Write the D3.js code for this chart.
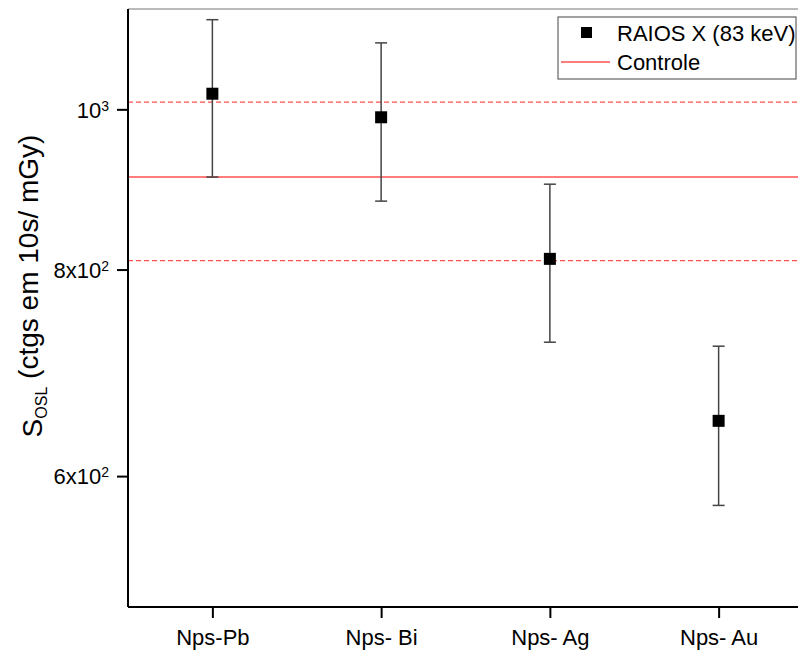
<!DOCTYPE html>
<html>
<head>
<meta charset="utf-8">
<style>
  body { margin: 0; background: #fff; }
  text { font-family: 'Liberation Sans', Arial, sans-serif; fill: #000; }
  .domain { stroke: #000; stroke-width: 2; }
  .tick line { stroke: #000; stroke-width: 2; }
</style>
</head>
<body>
<script src="https://d3js.org/d3.v7.min.js"></script>
<script>

// data
var categories = ['Nps-Pb', 'Nps- Bi', 'Nps- Ag', 'Nps- Au'];
var values     = [1022, 989, 812, 648];
var errPlus    = [111, 108, 89, 71];
var errMinus   = [112, 109, 89, 72];
var controle   = 910;
var controleBand = [810, 1010];
var yTicks     = [600, 800, 1000];
var yTickBase  = ['6x10', '8x10', '10'];
var yTickExp   = ['2', '2', '3'];

var width = 798, height = 654;
var plotL = 128, plotR = 803, plotT = 9, plotB = 607;

var svg = d3.select('body').append('svg')
  .attr('width', width)
  .attr('height', height);

var x = d3.scalePoint().domain(categories).range([plotL, plotR]).padding(0.5);
var y = d3.scaleLog().domain([500, 1150]).range([plotB, plotT]);

// frame (top/right)
svg.append('line')
  .attr('x1', plotL).attr('x2', plotR).attr('y1', plotT).attr('y2', plotT)
  .attr('stroke', '#777').attr('stroke-width', 1.2);
svg.append('line')
  .attr('x1', plotR).attr('x2', plotR).attr('y1', plotT).attr('y2', plotB)
  .attr('stroke', '#777').attr('stroke-width', 1.2);

// control lines
svg.append('line')
  .attr('x1', plotL).attr('x2', plotR)
  .attr('y1', y(controle)).attr('y2', y(controle))
  .attr('stroke', '#ff5050').attr('stroke-width', 1.6);
svg.selectAll('.band')
  .data(controleBand)
  .enter().append('line')
  .attr('class', 'band')
  .attr('x1', plotL).attr('x2', plotR)
  .attr('y1', function (d) { return y(d); })
  .attr('y2', function (d) { return y(d); })
  .attr('stroke', '#ff5050').attr('stroke-width', 1.3)
  .attr('stroke-dasharray', '5,3');

// axes
var xAxis = d3.axisBottom(x).tickSize(11).tickPadding(10);
var gx = svg.append('g')
  .attr('transform', 'translate(0,' + plotB + ')')
  .call(xAxis);
gx.select('.domain').attr('d', 'M' + plotL + ',0H' + plotR);
gx.selectAll('.tick text')
  .style('font-size', '22px')
  .attr('dy', '0.78em');

var yAxis = d3.axisLeft(y).tickValues(yTicks).tickSize(11).tickPadding(8).tickFormat('');
var gy = svg.append('g')
  .attr('transform', 'translate(' + plotL + ',0)')
  .call(yAxis);
gy.select('.domain').attr('d', 'M0,' + plotT + 'V' + plotB);
gy.selectAll('.tick text').each(function (d, i) {
  var t = d3.select(this)
    .style('font-size', '22px')
    .attr('dy', '0.35em');
  t.append('tspan').text(yTickBase[i]);
  t.append('tspan').text(yTickExp[i])
    .attr('dy', '-0.5em')
    .style('font-size', '14px');
});

// y title
var title = svg.append('text')
  .attr('transform', 'translate(42,286) rotate(-90)')
  .attr('text-anchor', 'middle')
  .style('font-size', '28px');
title.append('tspan').text('S');
title.append('tspan').text('OSL').attr('dy', '0.3em').style('font-size', '16px');
title.append('tspan').text(' (ctgs em 10s/ mGy)').attr('dy', '-0.3em');

// error bars
var pts = categories.map(function (c, i) {
  return { c: c, v: values[i], hi: values[i] + errPlus[i], lo: values[i] - errMinus[i] };
});
var eb = svg.selectAll('.err').data(pts).enter().append('g')
  .attr('class', 'err')
  .attr('stroke', '#444').attr('stroke-width', 1.5);
eb.append('line')
  .attr('x1', function (d) { return x(d.c); })
  .attr('x2', function (d) { return x(d.c); })
  .attr('y1', function (d) { return y(d.hi); })
  .attr('y2', function (d) { return y(d.lo); });
eb.append('line')
  .attr('x1', function (d) { return x(d.c) - 6; })
  .attr('x2', function (d) { return x(d.c) + 6; })
  .attr('y1', function (d) { return y(d.hi); })
  .attr('y2', function (d) { return y(d.hi); });
eb.append('line')
  .attr('x1', function (d) { return x(d.c) - 6; })
  .attr('x2', function (d) { return x(d.c) + 6; })
  .attr('y1', function (d) { return y(d.lo); })
  .attr('y2', function (d) { return y(d.lo); });

// markers
var ms = 12;
svg.selectAll('.pt').data(pts).enter().append('rect')
  .attr('class', 'pt')
  .attr('x', function (d) { return x(d.c) - ms / 2; })
  .attr('y', function (d) { return y(d.v) - ms / 2; })
  .attr('width', ms).attr('height', ms)
  .attr('fill', '#000');

// legend
var lg = svg.append('g').attr('transform', 'translate(558,17)');
lg.append('rect')
  .attr('width', 238).attr('height', 62)
  .attr('fill', '#fff').attr('stroke', '#444').attr('stroke-width', 1);
lg.append('rect')
  .attr('x', 23).attr('y', 10).attr('width', 11).attr('height', 11)
  .attr('fill', '#000');
lg.append('text').attr('x', 59).attr('y', 24).style('font-size', '22px').text('RAIOS X (83 keV)');
lg.append('line')
  .attr('x1', 3).attr('x2', 52).attr('y1', 45).attr('y2', 45)
  .attr('stroke', '#ff5050').attr('stroke-width', 1.5);
lg.append('text').attr('x', 59).attr('y', 53).style('font-size', '22px').text('Controle');

</script>
</body>
</html>
